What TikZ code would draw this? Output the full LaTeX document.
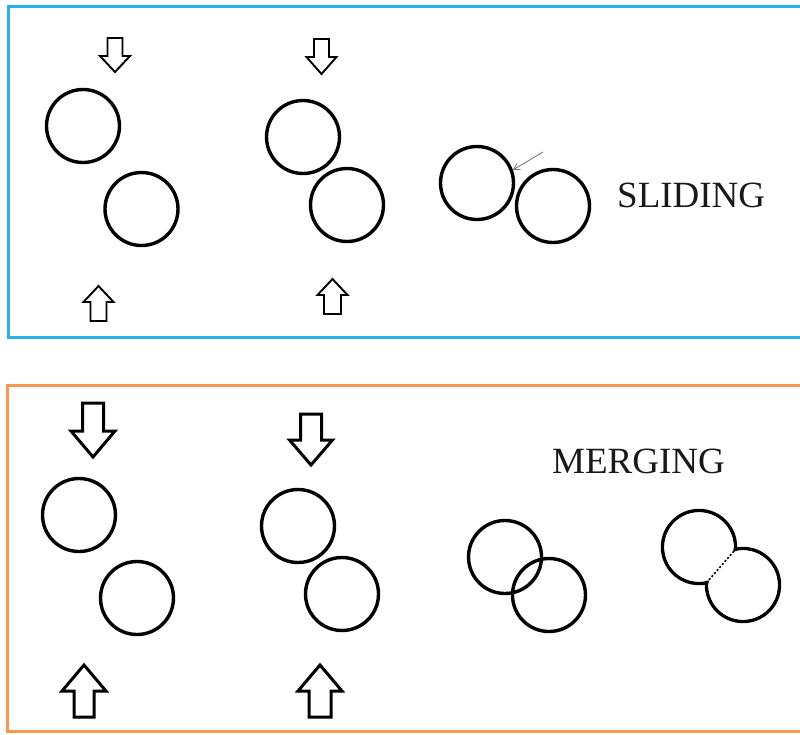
\documentclass[tikz,border=0pt]{standalone}
\usepackage{fontspec}
\setmainfont{Liberation Serif}
\usetikzlibrary{arrows.meta}
\definecolor{fblue}{RGB}{40,176,238}
\definecolor{forange}{RGB}{248,152,80}
\newcommand{\blockarr}[7]{\draw[#1] ({#2-#6},#3) -- ({#2+#6},#3) -- ({#2+#6},#4) -- ({#2+#7},#4) -- (#2,#5) -- ({#2-#7},#4) -- ({#2-#6},#4) -- cycle;}
\begin{document}
\begin{tikzpicture}[x=1pt,y=-1pt,
  ball/.style={circle,draw=black,line width=3.4pt,minimum size=73pt,inner sep=0pt},
  sarrow/.style={draw=black,line width=1.9pt,fill=white,line join=miter},
  marrow/.style={draw=black,line width=3pt,fill=white,line join=miter},
  lbl/.style={font=\fontsize{37}{40}\selectfont,inner sep=0pt,anchor=base west,text=black!90}]
\useasboundingbox (0,0) rectangle (800,734);
\clip (0,0) rectangle (800,734);
% frames
\draw[fblue,line width=3pt] (8,6.5) rectangle (830,337);
\draw[forange,line width=3pt] (7.5,385) rectangle (830,731.5);
% ---------- SLIDING ----------
\blockarr{sarrow}{115}{38}{56}{72}{7.5}{15}
\blockarr{sarrow}{321.5}{39}{57}{74}{7.5}{15}
\blockarr{sarrow}{98.5}{321}{302}{286}{8}{15}
\blockarr{sarrow}{332.5}{314}{295}{279}{8.5}{15}
\node[ball] (sa) at (83,126) {};
\node[ball] (sb) at (141.5,209) {};
\node[ball] (sc) at (303,137) {};
\node[ball] (sd) at (347,205) {};
\node[ball] (se) at (477,183) {};
\node[ball] (sf) at (553,206) {};
\coordinate (gs) at (543,152);
\draw[black!55,line width=0.8pt,-{Straight Barb[length=6pt,width=7pt]}] (gs) -- (se.20);
\node[lbl] (slid) at (617,207) {SLIDING};
% ---------- MERGING ----------
\blockarr{marrow}{93}{403}{431}{457}{10.5}{22}
\blockarr{marrow}{311}{414}{440}{465}{10.5}{21.5}
\blockarr{marrow}{84}{717}{691}{665}{10}{22}
\blockarr{marrow}{320}{717}{691}{665}{11}{22}
\node[ball] (ma) at (79,515) {};
\node[ball] (mb) at (137,598) {};
\node[ball] (mc) at (298,526) {};
\node[ball] (md) at (342,594) {};
\node[ball] (me) at (505,557) {};
\node[ball] (mf) at (549,595) {};
\node[ball] (mg) at (699,547) {};
\node[ball] (mh) at (743,585) {};
\fill[white] (mg.center) circle (34.6pt);
\fill[white] (mh.center) circle (34.6pt);
\coordinate (j1) at (736.5,548.1);
\coordinate (j2) at (705.5,583.9);
\draw[black,line width=1.6pt,dash pattern=on 2pt off 2pt] (j1) -- (j2);
\node[lbl] (merg) at (552,473) {MERGING};
\end{tikzpicture}
\end{document}
